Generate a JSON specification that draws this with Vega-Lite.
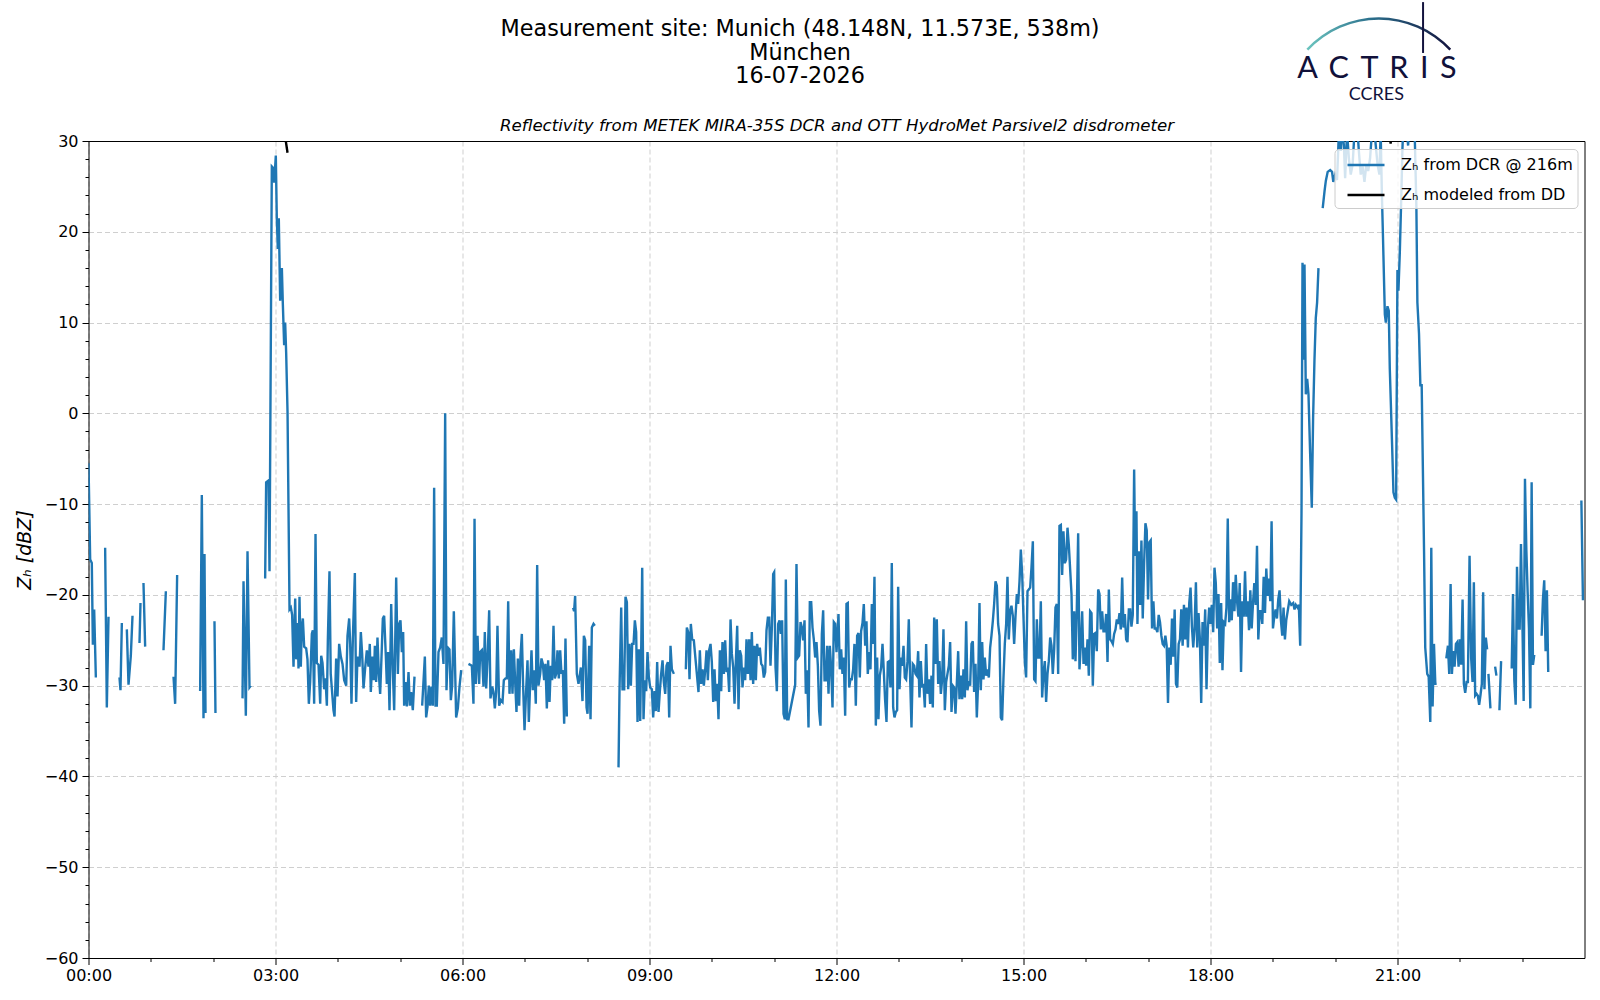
{
"$schema":"https://vega.github.io/schema/vega-lite/v6.json",
"width":1496,"height":817,
"autosize":{"type":"none"},
"padding":{"left":88.5,"top":141,"right":15.5,"bottom":42},
"background":"white",
"config":{"view":{"stroke":null},"axis":{"domainWidth":1,"tickWidth":1}},
"datasets":{
"dcr":[
{"t":0.0,"z":-5.5},{"t":0.027,"z":-16.1},{"t":0.053,"z":-16.5},{"t":0.07,"z":-25.5},{"t":0.091,"z":-21.6},{"t":0.118,"z":-29.1},{"t":0.17,"z":null},
{"t":0.267,"z":-14.8},{"t":0.294,"z":-32.4},{"t":0.321,"z":-22.4},{"t":0.4,"z":null},
{"t":0.497,"z":-29.1},{"t":0.513,"z":-30.5},{"t":0.535,"z":-23.1},{"t":0.57,"z":null},
{"t":0.615,"z":-23.8},{"t":0.642,"z":-29.9},{"t":0.679,"z":-26.7},{"t":0.706,"z":-22.3},{"t":0.76,"z":null},
{"t":0.818,"z":-25.3},{"t":0.834,"z":-20.9},{"t":0.86,"z":null},
{"t":0.882,"z":-18.7},{"t":0.909,"z":-25.7},{"t":1.0,"z":null},
{"t":1.203,"z":-26.1},{"t":1.241,"z":-19.6},{"t":1.3,"z":null},
{"t":1.364,"z":-29},{"t":1.39,"z":-32},{"t":1.422,"z":-17.8},{"t":1.6,"z":null},
{"t":1.791,"z":-30.6},{"t":1.818,"z":-9},{"t":1.845,"z":-33.6},{"t":1.861,"z":-15.5},{"t":1.877,"z":-33},{"t":1.95,"z":null},
{"t":2.021,"z":-22.9},{"t":2.037,"z":-33},{"t":2.2,"z":null},
{"t":2.471,"z":-31.4},{"t":2.487,"z":-18.5},{"t":2.524,"z":-33.3},{"t":2.551,"z":-15.2},{"t":2.583,"z":-30.2},{"t":2.604,"z":-30},{"t":2.7,"z":null},
{"t":2.834,"z":-18.2},{"t":2.85,"z":-7.6},{"t":2.888,"z":-7.4},{"t":2.904,"z":-17.4},{"t":2.941,"z":27.2},{"t":2.968,"z":27},{"t":2.979,"z":25.4},{"t":3.005,"z":28.4},{"t":3.021,"z":21.5},{"t":3.037,"z":18.1},{"t":3.053,"z":21.5},{"t":3.075,"z":12.4},{"t":3.102,"z":16},{"t":3.118,"z":12},{"t":3.139,"z":7.5},{"t":3.155,"z":10},{"t":3.171,"z":6.7},{"t":3.193,"z":0.2},{"t":3.225,"z":-21.6},{"t":3.246,"z":-21.4},{"t":3.267,"z":-22.2},{"t":3.289,"z":-27.9},{"t":3.316,"z":-20.4},{"t":3.332,"z":-27.1},{"t":3.353,"z":-23.1},{"t":3.369,"z":-28.1},{"t":3.385,"z":-20.2},{"t":3.406,"z":-27.9},{"t":3.422,"z":-23.5},{"t":3.439,"z":-22.6},{"t":3.46,"z":-25.7},{"t":3.492,"z":-25.9},{"t":3.513,"z":-27.1},{"t":3.535,"z":-32},{"t":3.556,"z":-29.6},{"t":3.583,"z":-24.3},{"t":3.599,"z":-23.9},{"t":3.62,"z":-32},{"t":3.642,"z":-13.3},{"t":3.663,"z":-27.5},{"t":3.69,"z":-27.7},{"t":3.717,"z":-32},{"t":3.733,"z":-26.7},{"t":3.754,"z":-27.5},{"t":3.781,"z":-30.4},{"t":3.802,"z":-29.2},{"t":3.824,"z":-32.2},{"t":3.84,"z":-24.9},{"t":3.866,"z":-17.4},
{"t":3.886,"z":-28.7},{"t":3.93,"z":-32.7},{"t":3.947,"z":-33.4},{"t":3.973,"z":-27},{"t":3.995,"z":-31.2},{"t":4.021,"z":-25.4},{"t":4.048,"z":-26.8},{"t":4.075,"z":-27.6},{"t":4.102,"z":-29.4},{"t":4.134,"z":-30},{"t":4.155,"z":-24.5},{"t":4.182,"z":-22.6},{"t":4.198,"z":-25.4},{"t":4.219,"z":-32},{"t":4.241,"z":-24.8},{"t":4.273,"z":-17.6},{"t":4.294,"z":-31.8},{"t":4.315,"z":-26.8},{"t":4.348,"z":-27.9},{"t":4.369,"z":-24.1},{"t":4.39,"z":-26.5},{"t":4.412,"z":-30.3},{"t":4.438,"z":-28.1},{"t":4.465,"z":-26.1},{"t":4.492,"z":-27.9},{"t":4.513,"z":-25.4},{"t":4.529,"z":-30.7},{"t":4.556,"z":-26.8},{"t":4.578,"z":-29.4},{"t":4.594,"z":-25.6},{"t":4.615,"z":-29.6},{"t":4.636,"z":-24.7},{"t":4.658,"z":-28.7},{"t":4.679,"z":-30.9},{"t":4.706,"z":-25.8},{"t":4.722,"z":-22.6},{"t":4.743,"z":-22.3},{"t":4.77,"z":-26.7},{"t":4.786,"z":-29.8},{"t":4.807,"z":-26.3},{"t":4.829,"z":-32.7},{"t":4.856,"z":-21},{"t":4.882,"z":-28.3},{"t":4.904,"z":-32.7},{"t":4.936,"z":-18.1},{"t":4.963,"z":-28.7},{"t":4.984,"z":-23.2},{"t":5.005,"z":-22.8},{"t":5.027,"z":-26.3},{"t":5.048,"z":-24.1},{"t":5.064,"z":-32.2},{"t":5.086,"z":-29.6},{"t":5.107,"z":-32.3},{"t":5.134,"z":-28.5},{"t":5.155,"z":-32.2},{"t":5.176,"z":-30.7},{"t":5.203,"z":-32.7},{"t":5.23,"z":-29},{"t":5.29,"z":null},
{"t":5.353,"z":-32.2},{"t":5.396,"z":-26.8},{"t":5.417,"z":-33.5},{"t":5.439,"z":-32.3},{"t":5.46,"z":-30},{"t":5.481,"z":-32.2},{"t":5.503,"z":-30.1},{"t":5.524,"z":-32.2},{"t":5.545,"z":-8.2},{"t":5.567,"z":-32.2},{"t":5.588,"z":-32.2},{"t":5.615,"z":-26.3},{"t":5.642,"z":-25.8},{"t":5.668,"z":-24.7},{"t":5.695,"z":-27.6},{"t":5.722,"z":0},{"t":5.743,"z":-30.5},{"t":5.765,"z":-25.8},{"t":5.791,"z":-26},{"t":5.813,"z":-31.6},{"t":5.834,"z":-30},{"t":5.861,"z":-21.8},{"t":5.882,"z":-28.3},{"t":5.898,"z":-33.5},{"t":5.925,"z":-32.5},{"t":5.952,"z":-30.1},{"t":5.979,"z":-28.3},{"t":6.04,"z":null},
{"t":6.096,"z":-27.6},{"t":6.15,"z":-27.8},{"t":6.176,"z":-32},{"t":6.193,"z":-11.6},{"t":6.214,"z":-29.8},{"t":6.241,"z":-24.5},{"t":6.267,"z":-29.8},{"t":6.283,"z":-26.3},{"t":6.31,"z":-26.1},{"t":6.337,"z":-30.1},{"t":6.358,"z":-24.1},{"t":6.38,"z":-30.3},{"t":6.406,"z":-26.3},{"t":6.428,"z":-21.7},{"t":6.449,"z":-31.4},{"t":6.476,"z":-30.1},{"t":6.497,"z":-30.7},{"t":6.519,"z":-32.5},{"t":6.54,"z":-30.7},{"t":6.561,"z":-23.4},{"t":6.588,"z":-32.2},{"t":6.615,"z":-31.6},{"t":6.642,"z":-31.8},{"t":6.663,"z":-29.4},{"t":6.69,"z":-29.2},{"t":6.711,"z":-29.2},{"t":6.733,"z":-20.7},{"t":6.754,"z":-30.9},{"t":6.781,"z":-26.1},{"t":6.802,"z":-30.9},{"t":6.824,"z":-26},{"t":6.845,"z":-29.6},{"t":6.866,"z":-32.9},{"t":6.888,"z":-27},{"t":6.909,"z":-32.2},{"t":6.93,"z":-26.8},{"t":6.952,"z":-24.3},{"t":6.973,"z":-30.1},{"t":6.995,"z":-34.9},{"t":7.021,"z":-30.5},{"t":7.043,"z":-27.2},{"t":7.064,"z":-34},{"t":7.086,"z":-29.6},{"t":7.107,"z":-26.1},{"t":7.128,"z":-30.5},{"t":7.155,"z":-28.3},{"t":7.176,"z":-32},{"t":7.198,"z":-16.7},{"t":7.219,"z":-30},{"t":7.246,"z":-28.7},{"t":7.267,"z":-27},{"t":7.289,"z":-27.6},{"t":7.31,"z":-29.4},{"t":7.331,"z":-27.6},{"t":7.353,"z":-32.5},{"t":7.374,"z":-27.2},{"t":7.396,"z":-31.8},{"t":7.417,"z":-27.8},{"t":7.438,"z":-29.4},{"t":7.46,"z":-23.4},{"t":7.481,"z":-29.2},{"t":7.503,"z":-28.7},{"t":7.524,"z":-26.1},{"t":7.545,"z":-29.2},{"t":7.567,"z":-26.1},{"t":7.588,"z":-28.7},{"t":7.61,"z":-28.3},{"t":7.631,"z":-34.2},{"t":7.652,"z":-24.8},{"t":7.674,"z":-33.4},{"t":7.73,"z":null},
{"t":7.775,"z":-21.4},{"t":7.79,"z":-21.8},{"t":7.807,"z":-20.1},{"t":7.834,"z":-28.7},{"t":7.861,"z":-29.8},{"t":7.899,"z":-28},{"t":7.925,"z":-31.7},{"t":7.947,"z":-24.5},{"t":7.968,"z":-25},{"t":7.99,"z":-32.4},{"t":8.006,"z":-33.1},{"t":8.032,"z":-25.6},{"t":8.054,"z":-33.7},{"t":8.075,"z":-23.6},{"t":8.102,"z":-23.2},{"t":8.123,"z":-23.4},{"t":8.3,"z":null},
{"t":8.503,"z":-39},{"t":8.519,"z":-30.4},{"t":8.546,"z":-21.4},{"t":8.567,"z":-30.4},{"t":8.594,"z":-30.4},{"t":8.615,"z":-20.2},{"t":8.637,"z":-20.8},{"t":8.658,"z":-30.4},{"t":8.679,"z":-25.4},{"t":8.701,"z":-30},{"t":8.722,"z":-25.4},{"t":8.744,"z":-25.4},{"t":8.765,"z":-22.8},{"t":8.786,"z":-24.1},{"t":8.808,"z":-34},{"t":8.829,"z":-26},{"t":8.851,"z":-33.9},{"t":8.867,"z":-26},{"t":8.883,"z":-17},{"t":8.904,"z":-33.7},{"t":8.925,"z":-29.4},{"t":8.947,"z":-30.6},{"t":8.968,"z":-26.3},{"t":8.99,"z":-29.1},{"t":9.011,"z":-30.2},{"t":9.038,"z":-30.4},{"t":9.059,"z":-33.5},{"t":9.081,"z":-30.6},{"t":9.102,"z":-32.8},{"t":9.123,"z":-27.4},{"t":9.145,"z":-32.9},{"t":9.166,"z":-30.6},{"t":9.187,"z":-28.7},{"t":9.209,"z":-27.2},{"t":9.23,"z":-29.6},{"t":9.252,"z":-30.9},{"t":9.273,"z":-27.8},{"t":9.294,"z":-27.4},{"t":9.316,"z":-33.5},{"t":9.337,"z":-25.6},{"t":9.359,"z":-28.2},{"t":9.391,"z":-28.7},{"t":9.5,"z":null},
{"t":9.583,"z":-28.2},{"t":9.599,"z":-23.6},{"t":9.621,"z":-24.1},{"t":9.642,"z":-29.3},{"t":9.663,"z":-23.2},{"t":9.685,"z":-24.9},{"t":9.711,"z":-25},{"t":9.786,"z":-30.7},{"t":9.808,"z":-26.1},{"t":9.829,"z":-29.8},{"t":9.851,"z":-28.2},{"t":9.872,"z":-30},{"t":9.893,"z":-28.3},{"t":9.915,"z":-26.1},{"t":9.936,"z":-29.4},{"t":9.957,"z":-26.1},{"t":9.979,"z":-25.4},{"t":10.0,"z":-27.4},{"t":10.022,"z":-31.8},{"t":10.043,"z":-28.2},{"t":10.064,"z":-31.7},{"t":10.086,"z":-29.8},{"t":10.107,"z":-33.7},{"t":10.129,"z":-26.1},{"t":10.15,"z":-30.6},{"t":10.171,"z":-25.2},{"t":10.193,"z":-28.7},{"t":10.214,"z":-25},{"t":10.236,"z":-28.5},{"t":10.257,"z":-28},{"t":10.278,"z":-30.7},{"t":10.3,"z":-22.7},{"t":10.321,"z":-26.5},{"t":10.343,"z":-28},{"t":10.364,"z":-32},{"t":10.385,"z":-27.4},{"t":10.407,"z":-23.4},{"t":10.428,"z":-32.6},{"t":10.449,"z":-26.1},{"t":10.471,"z":-26.7},{"t":10.492,"z":-30.2},{"t":10.514,"z":-28},{"t":10.535,"z":-29.4},{"t":10.556,"z":-24.9},{"t":10.578,"z":-28.7},{"t":10.599,"z":-24.9},{"t":10.621,"z":-29.4},{"t":10.642,"z":-24.1},{"t":10.663,"z":-29.8},{"t":10.685,"z":-25.6},{"t":10.706,"z":-29.4},{"t":10.727,"z":-25.4},{"t":10.749,"z":-26.7},{"t":10.77,"z":-25.8},{"t":10.792,"z":-27.6},{"t":10.813,"z":-27.8},{"t":10.834,"z":-29.1},{"t":10.856,"z":-28.5},{"t":10.877,"z":-23.9},{"t":10.899,"z":-22.5},{"t":10.92,"z":-22.5},{"t":10.941,"z":-27.8},{"t":10.963,"z":-23.6},{"t":10.984,"z":-17.7},{"t":11.0,"z":-17.5},{"t":11.022,"z":-28},{"t":11.043,"z":-30.6},{"t":11.064,"z":-23.2},{"t":11.086,"z":-22.8},{"t":11.107,"z":-24.3},{"t":11.128,"z":-22.8},{"t":11.15,"z":-33.1},{"t":11.171,"z":-33.7},{"t":11.187,"z":-18.3},{"t":11.209,"z":-33.7},{"t":11.23,"z":-33.7},{"t":11.337,"z":-29.9},{"t":11.358,"z":-16.6},{"t":11.38,"z":-26.9},{"t":11.401,"z":-26.7},{"t":11.423,"z":-23},{"t":11.444,"z":-23.6},{"t":11.465,"z":-25},{"t":11.487,"z":-22.8},{"t":11.508,"z":-30.9},{"t":11.53,"z":-28.3},{"t":11.551,"z":-34.6},{"t":11.572,"z":-20.8},{"t":11.594,"z":-20.8},{"t":11.615,"z":-23.6},{"t":11.636,"z":-24.9},{"t":11.658,"z":-26.9},{"t":11.679,"z":-25.2},{"t":11.701,"z":-27.8},{"t":11.722,"z":-32.8},{"t":11.743,"z":-34.4},{"t":11.765,"z":-24.3},{"t":11.786,"z":-21.7},{"t":11.808,"z":-29.4},{"t":11.829,"z":-29.4},{"t":11.85,"z":-25.6},{"t":11.872,"z":-30.9},{"t":11.893,"z":-25.6},{"t":11.914,"z":-28},{"t":11.936,"z":-32.4},{"t":11.957,"z":-23},{"t":11.979,"z":-23.2},{"t":12.0,"z":-26.3},
{"t":12.032,"z":-22.1},{"t":12.053,"z":-28.2},{"t":12.075,"z":-26},{"t":12.096,"z":-28.7},{"t":12.117,"z":-26.9},{"t":12.139,"z":-33.3},{"t":12.16,"z":-21},{"t":12.181,"z":-20.9},{"t":12.203,"z":-30.2},{"t":12.224,"z":-29.3},{"t":12.246,"z":-29.3},{"t":12.267,"z":-28.2},{"t":12.288,"z":-25.4},{"t":12.31,"z":-32.2},{"t":12.331,"z":-24.5},{"t":12.353,"z":-24.2},{"t":12.374,"z":-29.1},{"t":12.395,"z":-24},{"t":12.417,"z":-23.1},{"t":12.438,"z":-21},{"t":12.46,"z":-25.6},{"t":12.481,"z":-22.9},{"t":12.502,"z":-28.7},{"t":12.524,"z":-26.3},{"t":12.545,"z":-28.2},{"t":12.567,"z":-21},{"t":12.588,"z":-25.4},{"t":12.609,"z":-18},{"t":12.631,"z":-34.4},{"t":12.652,"z":-26.9},{"t":12.673,"z":-33.7},{"t":12.695,"z":-28.9},{"t":12.716,"z":-28},{"t":12.738,"z":-25.4},{"t":12.759,"z":-28.4},{"t":12.78,"z":-31.6},{"t":12.802,"z":-34},{"t":12.823,"z":-27.4},{"t":12.845,"z":-27.3},{"t":12.866,"z":-30.2},{"t":12.887,"z":-16.5},{"t":12.909,"z":-32.4},{"t":12.93,"z":-33.5},{"t":12.952,"z":-32.9},{"t":12.973,"z":-32.7},{"t":12.989,"z":-19.1},{"t":13.011,"z":-30.4},{"t":13.032,"z":-26.9},{"t":13.053,"z":-27.8},{"t":13.075,"z":-25.6},{"t":13.096,"z":-29.1},{"t":13.117,"z":-29.3},{"t":13.139,"z":-27.3},{"t":13.16,"z":-22.7},{"t":13.181,"z":-29.1},{"t":13.203,"z":-34.6},{"t":13.224,"z":-27.6},{"t":13.246,"z":-27.8},{"t":13.267,"z":-28.7},{"t":13.288,"z":-28.9},{"t":13.31,"z":-26.2},{"t":13.331,"z":-31.3},{"t":13.353,"z":-27.3},{"t":13.374,"z":-30.2},{"t":13.396,"z":-29.8},{"t":13.417,"z":-32.4},{"t":13.438,"z":-25.4},{"t":13.46,"z":-30.9},{"t":13.481,"z":-29.3},{"t":13.502,"z":-32},{"t":13.524,"z":-28.9},{"t":13.545,"z":-32.4},{"t":13.567,"z":-22.5},{"t":13.588,"z":-27.6},{"t":13.609,"z":-22.7},{"t":13.631,"z":-29.8},{"t":13.652,"z":-27.3},{"t":13.674,"z":-30.9},{"t":13.695,"z":-29.3},{"t":13.716,"z":-23.8},{"t":13.738,"z":-32.7},{"t":13.759,"z":-29.6},{"t":13.78,"z":-28.7},{"t":13.802,"z":-27.8},{"t":13.823,"z":-25.2},{"t":13.845,"z":-32.9},{"t":13.866,"z":-30},{"t":13.887,"z":-30.2},{"t":13.909,"z":-33.1},{"t":13.93,"z":-29.8},{"t":13.952,"z":-26.2},{"t":13.973,"z":-31.5},{"t":13.995,"z":-28.9},{"t":14.016,"z":-31.5},{"t":14.037,"z":-28.2},{"t":14.059,"z":-31.3},{"t":14.08,"z":-22.9},{"t":14.101,"z":-30.5},{"t":14.123,"z":-29.5},{"t":14.144,"z":-30},{"t":14.166,"z":-25.4},{"t":14.187,"z":-25.1},{"t":14.208,"z":-30.7},{"t":14.23,"z":-27.6},{"t":14.251,"z":-33.5},{"t":14.273,"z":-29.5},{"t":14.294,"z":-20.9},{"t":14.315,"z":-30.5},{"t":14.337,"z":-25.2},{"t":14.358,"z":-29.3},{"t":14.379,"z":-26.9},{"t":14.401,"z":-28.9},{"t":14.422,"z":-28.2},{"t":14.444,"z":-29.1},{"t":14.465,"z":-25.8},{"t":14.486,"z":-24.5},{"t":14.508,"z":-22.9},{"t":14.529,"z":-21},{"t":14.551,"z":-18.5},{"t":14.572,"z":-19},{"t":14.593,"z":-23.2},{"t":14.615,"z":-24.5},{"t":14.636,"z":-33.5},{"t":14.657,"z":-33.8},{"t":14.679,"z":-29.1},{"t":14.7,"z":-25.4},{"t":14.722,"z":-23.2},{"t":14.743,"z":-18},{"t":14.764,"z":-24.9},{"t":14.786,"z":-21.8},{"t":14.807,"z":-21.2},{"t":14.829,"z":-22.3},{"t":14.85,"z":-25.4},{"t":14.872,"z":-22.3},{"t":14.893,"z":-19.9},{"t":14.914,"z":-21},{"t":14.936,"z":-18.5},{"t":14.957,"z":-15},{"t":14.979,"z":-17.8},{"t":15.0,"z":-22.5},{"t":15.021,"z":-27.3},{"t":15.042,"z":-29.1},{"t":15.064,"z":-19.6},{"t":15.085,"z":-19.4},{"t":15.107,"z":-19.2},{"t":15.128,"z":-17},{"t":15.15,"z":-14.1},{"t":15.171,"z":-29.3},{"t":15.192,"z":-29.5},{"t":15.214,"z":-22.7},{"t":15.235,"z":-26.9},{"t":15.256,"z":-26.9},{"t":15.278,"z":-20.7},{"t":15.299,"z":-31.3},{"t":15.32,"z":-28.7},{"t":15.342,"z":-27.3},{"t":15.363,"z":-31.8},{"t":15.385,"z":-28.7},{"t":15.406,"z":-27.3},{"t":15.428,"z":-24.7},{"t":15.449,"z":-25.6},{"t":15.47,"z":-28.7},{"t":15.492,"z":-26},{"t":15.513,"z":-21.4},{"t":15.535,"z":-21},{"t":15.556,"z":-28.7},{"t":15.577,"z":-12.4},{"t":15.599,"z":-12.3},{"t":15.62,"z":-17.8},{"t":15.641,"z":-13},{"t":15.663,"z":-16.5},{"t":15.684,"z":-16.1},{"t":15.706,"z":-12.6},{"t":15.727,"z":-14.5},{"t":15.77,"z":-19.9},{"t":15.791,"z":-27.1},{"t":15.813,"z":-21.8},{"t":15.834,"z":-27.3},{"t":15.855,"z":-21.6},{"t":15.877,"z":-13.2},{"t":15.898,"z":-28.2},{"t":15.92,"z":-25.4},{"t":15.941,"z":-21.8},{"t":15.963,"z":-27.6},{"t":15.984,"z":-25.8},{"t":16.005,"z":-27.8},{"t":16.027,"z":-24.9},{"t":16.048,"z":-28.9},{"t":16.069,"z":-21.8},{"t":16.091,"z":-22},{"t":16.112,"z":-30},{"t":16.134,"z":-24.3},{"t":16.155,"z":-24.2},{"t":16.176,"z":-26.2},{"t":16.198,"z":-19.4},{"t":16.219,"z":-19.9},{"t":16.24,"z":-23.8},{"t":16.262,"z":-21.8},{"t":16.283,"z":-24},{"t":16.305,"z":-24},{"t":16.326,"z":-22.1},{"t":16.348,"z":-27.4},{"t":16.369,"z":-19.4},{"t":16.39,"z":-24.9},{"t":16.412,"z":-25.1},{"t":16.433,"z":-25.4},{"t":16.454,"z":-24.3},{"t":16.476,"z":-23.8},{"t":16.497,"z":-22.7},{"t":16.519,"z":-23.2},{"t":16.54,"z":-22},{"t":16.561,"z":-23.8},{"t":16.583,"z":-18.1},{"t":16.604,"z":-23.6},{"t":16.626,"z":-22.1},{"t":16.647,"z":-24.9},{"t":16.668,"z":-25.2},{"t":16.69,"z":-21.6},
{"t":16.711,"z":-21.6},{"t":16.732,"z":-23.5},{"t":16.753,"z":-22.2},{"t":16.775,"z":-6.2},{"t":16.791,"z":-15.7},{"t":16.812,"z":-10.8},{"t":16.828,"z":-23.2},{"t":16.849,"z":-15.2},{"t":16.871,"z":-21.1},{"t":16.892,"z":-14},{"t":16.913,"z":-22.6},{"t":16.935,"z":-16.5},{"t":16.956,"z":-12.1},{"t":16.977,"z":-12.9},{"t":16.998,"z":-20.5},{"t":17.02,"z":-14.2},{"t":17.041,"z":-14},{"t":17.062,"z":-23.7},{"t":17.084,"z":-20.7},{"t":17.105,"z":-23.7},{"t":17.126,"z":-23.7},{"t":17.148,"z":-24.1},{"t":17.169,"z":-22.2},{"t":17.19,"z":-23},{"t":17.212,"z":-24.5},{"t":17.233,"z":-25.4},{"t":17.254,"z":-25.6},{"t":17.276,"z":-24.5},{"t":17.297,"z":-25.6},{"t":17.318,"z":-31.9},{"t":17.339,"z":-25.8},{"t":17.361,"z":-27.7},{"t":17.382,"z":-22.6},{"t":17.403,"z":-26.8},{"t":17.425,"z":-21.6},{"t":17.446,"z":-29.8},{"t":17.467,"z":-30.2},{"t":17.489,"z":-25.4},{"t":17.51,"z":-24.9},{"t":17.531,"z":-21.6},{"t":17.553,"z":-25.6},{"t":17.574,"z":-21.1},{"t":17.595,"z":-24.9},{"t":17.616,"z":-21.4},{"t":17.638,"z":-25.8},{"t":17.659,"z":-20.9},{"t":17.68,"z":-19.2},{"t":17.702,"z":-23.5},{"t":17.723,"z":-25.8},{"t":17.744,"z":-23.7},{"t":17.766,"z":-18.6},{"t":17.787,"z":-25.8},{"t":17.808,"z":-22},{"t":17.83,"z":-24.9},{"t":17.851,"z":-31.9},{"t":17.872,"z":-23},{"t":17.894,"z":-25.6},{"t":17.915,"z":-21.6},{"t":17.936,"z":-30.4},{"t":17.958,"z":-23.7},{"t":17.979,"z":-21.4},{"t":18.0,"z":-23.2},{"t":18.021,"z":-21.1},{"t":18.043,"z":-24.1},{"t":18.064,"z":-17},{"t":18.085,"z":-18.7},{"t":18.107,"z":-23.7},{"t":18.128,"z":-19.9},{"t":18.149,"z":-27.5},{"t":18.171,"z":-20.9},{"t":18.192,"z":-28.3},{"t":18.213,"z":-23},{"t":18.235,"z":-23.2},{"t":18.256,"z":-21.4},{"t":18.277,"z":-11.6},{"t":18.299,"z":-23},{"t":18.32,"z":-20.5},{"t":18.341,"z":-22.8},{"t":18.362,"z":-18.6},{"t":18.384,"z":-21.8},{"t":18.405,"z":-17.8},{"t":18.426,"z":-20.7},{"t":18.448,"z":-22.4},{"t":18.469,"z":-18.7},{"t":18.49,"z":-28.5},{"t":18.512,"z":-20.7},{"t":18.533,"z":-22.4},{"t":18.554,"z":-17.4},{"t":18.575,"z":-22.4},{"t":18.597,"z":-20.7},{"t":18.618,"z":-23.9},{"t":18.639,"z":-19.5},{"t":18.661,"z":-23.7},{"t":18.682,"z":-20.9},{"t":18.703,"z":-18.7},{"t":18.725,"z":-21.1},{"t":18.746,"z":-14.6},{"t":18.767,"z":-24.9},{"t":18.789,"z":-21.8},{"t":18.81,"z":-21.8},{"t":18.831,"z":-23.2},{"t":18.853,"z":-18},{"t":18.874,"z":-22},{"t":18.895,"z":-17.1},{"t":18.917,"z":-20.1},{"t":18.938,"z":-18.2},{"t":18.959,"z":-20.7},{"t":18.98,"z":-11.9},{"t":19.002,"z":-23.7},{"t":19.023,"z":-22.4},{"t":19.044,"z":-21.6},{"t":19.066,"z":-22.6},{"t":19.087,"z":-20.5},{"t":19.108,"z":-19.5},{"t":19.13,"z":-22.8},{"t":19.151,"z":-24.5},{"t":19.172,"z":-21.4},{"t":19.194,"z":-24.9},{"t":19.215,"z":-22.8},{"t":19.263,"z":-20.7},{"t":19.295,"z":-21.1},{"t":19.327,"z":-20.9},{"t":19.348,"z":-21.6},{"t":19.369,"z":-21.1},{"t":19.396,"z":-21.4},{"t":19.417,"z":-21.1},{"t":19.439,"z":-25.6},{"t":19.46,"z":-11},{"t":19.476,"z":16.6},{"t":19.492,"z":5.9},{"t":19.508,"z":16.4},{"t":19.529,"z":2.1},{"t":19.551,"z":3.8},{"t":19.572,"z":2.1},{"t":19.598,"z":-4.3},{"t":19.625,"z":-10.4},{"t":19.646,"z":-0.5},{"t":19.668,"z":5.9},{"t":19.689,"z":10.5},{"t":19.71,"z":12.2},{"t":19.732,"z":16},{"t":19.77,"z":null},
{"t":19.8,"z":22.6},{"t":19.83,"z":24.5},{"t":19.85,"z":25.6},{"t":19.88,"z":26.6},{"t":19.92,"z":26.8},{"t":19.95,"z":26.6},{"t":19.97,"z":25.5},{"t":20.0,"z":26.3},{"t":20.03,"z":25.7},{"t":20.06,"z":31},{"t":20.09,"z":28.9},{"t":20.11,"z":31.5},{"t":20.14,"z":29.5},{"t":20.16,"z":25.9},{"t":20.19,"z":31},{"t":20.22,"z":28.1},{"t":20.25,"z":26.3},{"t":20.28,"z":27.4},{"t":20.31,"z":31},{"t":20.35,"z":32},{"t":20.38,"z":28.9},{"t":20.41,"z":26.3},{"t":20.44,"z":27.2},{"t":20.47,"z":25.5},{"t":20.5,"z":27.4},{"t":20.53,"z":26.7},{"t":20.56,"z":28.1},{"t":20.59,"z":31},{"t":20.62,"z":32},{"t":20.65,"z":29.6},{"t":20.68,"z":27.4},{"t":20.71,"z":26.3},{"t":20.73,"z":31},{"t":20.75,"z":24},{"t":20.765,"z":20},{"t":20.797,"z":10.9},{"t":20.813,"z":10},{"t":20.839,"z":11.8},{"t":20.86,"z":11.3},{"t":20.876,"z":5},{"t":20.913,"z":-3.4},{"t":20.935,"z":-8.7},{"t":20.957,"z":-9.3},{"t":20.978,"z":-9.5},{"t":20.999,"z":15.8},{"t":21.015,"z":13.5},{"t":21.037,"z":17.7},{"t":21.063,"z":24.4},{"t":21.079,"z":29.1},{"t":21.1,"z":33},{"t":21.14,"z":32},{"t":21.17,"z":29.5},{"t":21.2,"z":33},{"t":21.25,"z":34},{"t":21.277,"z":30.5},{"t":21.303,"z":22.7},{"t":21.319,"z":12.2},{"t":21.345,"z":8.8},{"t":21.367,"z":3.1},{"t":21.388,"z":3.1},{"t":21.426,"z":-15.2},{"t":21.445,"z":-25.8},{"t":21.477,"z":-28.7},{"t":21.5,"z":-29},{"t":21.526,"z":-34},{"t":21.542,"z":-14.8},{"t":21.563,"z":-32.3},{"t":21.585,"z":-25.4},{"t":21.607,"z":-29.8},{"t":21.628,"z":-29.8},{"t":21.7,"z":null},
{"t":21.783,"z":-27},{"t":21.809,"z":-25.6},{"t":21.83,"z":-28.7},{"t":21.852,"z":-18.8},{"t":21.873,"z":-28.7},{"t":21.894,"z":-26.2},{"t":21.916,"z":-27.9},{"t":21.937,"z":-25.4},{"t":21.958,"z":-25.2},{"t":21.98,"z":-27.9},{"t":22.001,"z":-24.9},{"t":22.022,"z":-27.7},{"t":22.044,"z":-20.5},{"t":22.065,"z":-29.8},{"t":22.086,"z":-30.8},{"t":22.108,"z":-29.6},{"t":22.129,"z":-29.6},{"t":22.156,"z":-15.7},{"t":22.182,"z":-27},{"t":22.204,"z":-29.6},{"t":22.225,"z":-18.6},{"t":22.246,"z":-31.1},{"t":22.268,"z":-30.9},{"t":22.289,"z":-31.1},{"t":22.31,"z":-32.1},{"t":22.332,"z":-31},{"t":22.353,"z":-29.8},{"t":22.374,"z":-19.7},{"t":22.395,"z":-30.4},{"t":22.417,"z":-24.7},{"t":22.438,"z":-26},{"t":22.45,"z":null},
{"t":22.459,"z":-28.7},{"t":22.491,"z":-32.5},{"t":22.53,"z":null},
{"t":22.566,"z":-27.9},{"t":22.587,"z":-28.9},{"t":22.61,"z":null},
{"t":22.635,"z":-32.7},{"t":22.662,"z":-27.3},{"t":22.75,"z":null},
{"t":22.832,"z":-28.1},{"t":22.853,"z":-19.9},{"t":22.874,"z":-29.4},{"t":22.896,"z":-32.1},{"t":22.917,"z":-16.9},{"t":22.938,"z":-23.7},{"t":22.96,"z":-23.7},{"t":22.981,"z":-14.4},{"t":23.003,"z":-22.6},{"t":23.024,"z":-31.7},{"t":23.045,"z":-7.2},{"t":23.067,"z":-15},{"t":23.088,"z":-19.7},{"t":23.109,"z":-23.7},{"t":23.131,"z":-32.5},{"t":23.152,"z":-7.6},{"t":23.173,"z":-27.7},{"t":23.194,"z":-26.6},{"t":23.25,"z":null},
{"t":23.312,"z":-24.5},{"t":23.333,"z":-20.5},{"t":23.354,"z":-18.4},{"t":23.376,"z":-26.2},{"t":23.397,"z":-19.5},{"t":23.418,"z":-28.5},{"t":23.6,"z":null},
{"t":23.95,"z":-9.6},{"t":23.975,"z":-20.6}
],
"dd":[{"t":3.1,"z":33},{"t":3.193,"z":28.7},{"t":3.21,"z":null},{"t":20.875,"z":31},{"t":20.89,"z":29.7},{"t":20.905,"z":31}],
"one":[{"k":1}]
},
"layer":[
{"data":{"name":"dcr"},
"mark":{"type":"line","strokeWidth":2.4,"clip":true,"invalid":"break-paths-show-domains"},
"encoding":{
"x":{"field":"t","type":"quantitative","scale":{"domain":[0,24],"nice":false,"zero":false},
"axis":{"orient":"bottom","title":null,"values":[0,1,2,3,4,5,6,7,8,9,10,11,12,13,14,15,16,17,18,19,20,21,22,23],
"labelExpr":"datum.value % 3 === 0 ? ((datum.value < 10 ? '0' : '') + datum.value + ':00') : ''",
"tickSize":{"condition":{"test":"datum.value % 3 === 0","value":6.5},"value":3.5},
"grid":true,"gridColor":"#cfcfcf","gridDash":[5,3],"gridWidth":1,
"gridOpacity":{"condition":{"test":"datum.value % 3 === 0","value":1},"value":0},
"domainColor":"#000","tickColor":"#000","labelColor":"#000","labelFont":"DejaVu Sans","labelFontSize":16,"labelPadding":3,"labelOverlap":false,"labelBound":false,"labelFlush":false}},
"y":{"field":"z","type":"quantitative","scale":{"domain":[-60,30],"nice":false,"zero":false},
"axis":{"orient":"left","title":"Zₕ [dBZ]","titleFont":"DejaVu Sans","titleFontSize":19,"titleFontStyle":"italic","titleFontWeight":"normal","titleColor":"#000","titlePadding":10,
"values":[-60,-58,-56,-54,-52,-50,-48,-46,-44,-42,-40,-38,-36,-34,-32,-30,-28,-26,-24,-22,-20,-18,-16,-14,-12,-10,-8,-6,-4,-2,0,2,4,6,8,10,12,14,16,18,20,22,24,26,28,30],
"labelExpr":"datum.value % 10 === 0 ? datum.label : ''",
"tickSize":{"condition":{"test":"datum.value % 10 === 0","value":6.5},"value":3.5},
"grid":true,"gridColor":"#cfcfcf","gridDash":[5,3],"gridWidth":1,
"gridOpacity":{"condition":{"test":"datum.value % 10 === 0","value":1},"value":0},
"domainColor":"#000","tickColor":"#000","labelColor":"#000","labelFont":"DejaVu Sans","labelFontSize":16,"labelPadding":4,"labelOverlap":false,"labelBound":false,"labelFlush":false}},
"color":{"datum":"Zₕ from DCR @ 216m","type":"nominal",
"scale":{"domain":["Zₕ from DCR @ 216m","Zₕ modeled from DD"],"range":["#1f77b4","#000000"]},
"legend":{"orient":"top-right","offset":7.5,"title":null,"symbolType":"M-0.3,0H3.4","symbolSize":400,"symbolStrokeWidth":2.4,"labelFont":"DejaVu Sans","labelFontSize":16,"labelColor":"#000","labelLimit":0,"fillColor":"rgba(255,255,255,0.8)","strokeColor":"#cccccc","cornerRadius":4,"padding":4.5,"rowPadding":10,"labelOffset":39}}
}},
{"data":{"name":"dd"},
"mark":{"type":"line","strokeWidth":2.4,"clip":true,"invalid":"break-paths-show-domains"},
"encoding":{
"x":{"field":"t","type":"quantitative","scale":{"domain":[0,24],"nice":false,"zero":false},
"axis":{"orient":"top","ticks":false,"labels":false,"grid":false,"domainColor":"#000","title":"Reflectivity from METEK MIRA-35S DCR and OTT HydroMet Parsivel2 disdrometer","titleFont":"DejaVu Sans","titleFontSize":16.6,"titleFontStyle":"italic","titleFontWeight":"normal","titleColor":"#000","titlePadding":8}},
"y":{"field":"z","type":"quantitative","scale":{"domain":[-60,30],"nice":false,"zero":false},
"axis":{"orient":"right","ticks":false,"labels":false,"grid":false,"domainColor":"#000","title":null}},
"color":{"datum":"Zₕ modeled from DD","type":"nominal"}
}},
{"data":{"name":"one"},
"mark":{"type":"text","text":["Measurement site: Munich (48.148N, 11.573E, 538m)","München","16-07-2026"],"font":"DejaVu Sans","fontSize":22.3,"lineHeight":23.6,"color":"#000","align":"center","baseline":"alphabetic"},
"encoding":{"x":{"datum":11.415,"type":"quantitative","axis":null},"y":{"datum":41.55,"type":"quantitative","axis":null}}},
{"data":{"name":"one"},
"mark":{"type":"text","text":"A \u2009C \u2009T \u2009R \u2009I \u2009S","font":"Lato","fontSize":30.5,"color":"#11113a","align":"center","baseline":"alphabetic"},
"encoding":{"x":{"datum":20.67,"type":"quantitative","axis":null},"y":{"datum":36.94,"type":"quantitative","axis":null}}},
{"data":{"name":"one"},
"mark":{"type":"text","text":"CCRES","font":"Lato","fontSize":18,"color":"#11113a","align":"center","baseline":"alphabetic"},
"encoding":{"x":{"datum":20.66,"type":"quantitative","axis":null},"y":{"datum":34.57,"type":"quantitative","axis":null}}},
{"data":{"name":"one"},
"mark":{"type":"arc","radius":99,"radius2":96.5,"theta":-0.82,"theta2":0.82,
"color":{"gradient":"linear","x1":0,"y1":0,"x2":1,"y2":0,"stops":[{"offset":0,"color":"#6cc5bf"},{"offset":0.45,"color":"#2b6f8c"},{"offset":1,"color":"#13133d"}]}},
"encoding":{"x":{"datum":20.7,"type":"quantitative","axis":null},"y":{"datum":32.72,"type":"quantitative","axis":null}}},
{"data":{"name":"one"},
"mark":{"type":"rule","color":"#13133d","strokeWidth":2},
"encoding":{"x":{"datum":21.41,"type":"quantitative","axis":null},"y":{"datum":39.7,"type":"quantitative","axis":null},"y2":{"datum":45.3}}}
],
"resolve":{"axis":{"x":"independent","y":"independent"}}
}
